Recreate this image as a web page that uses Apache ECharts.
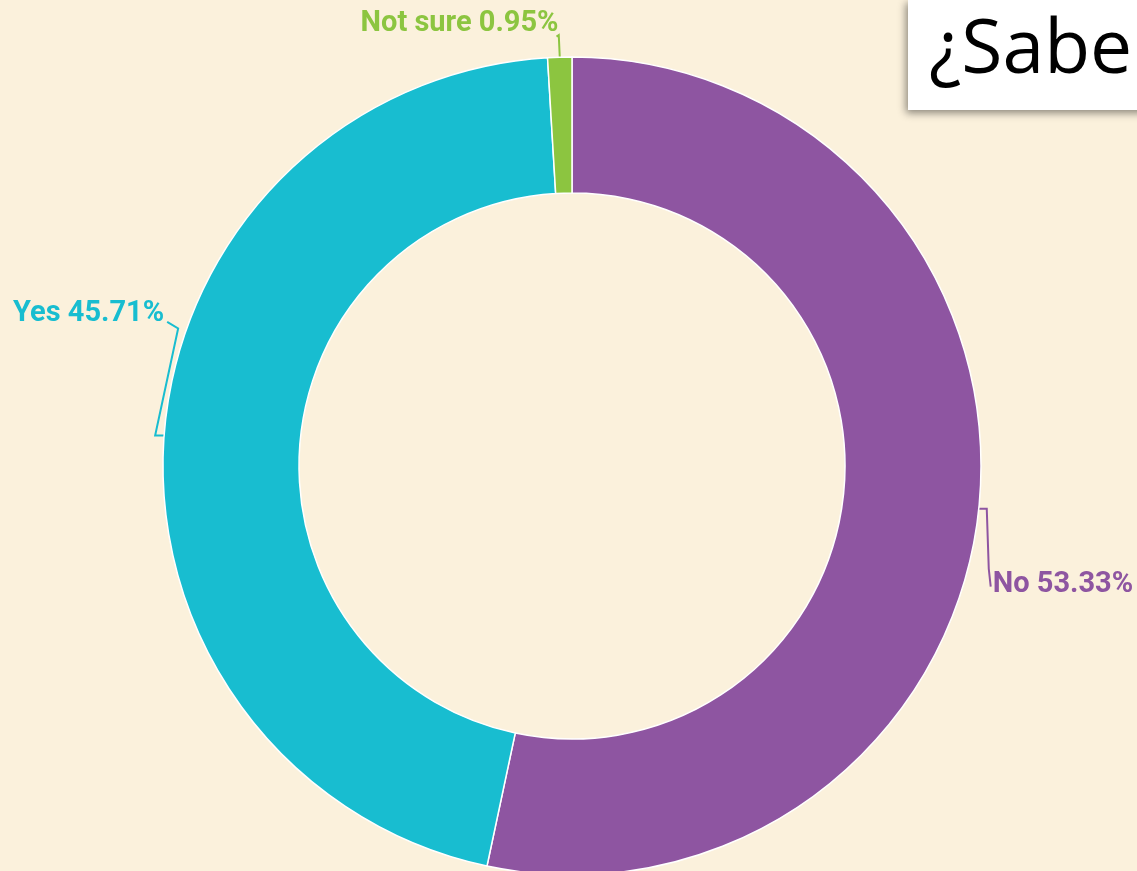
<!DOCTYPE html>
<html><head><meta charset="utf-8">
<script src="https://cdn.jsdelivr.net/npm/echarts@6/dist/echarts.min.js"></script>
<style>html,body{margin:0;padding:0;background:#fbf1dc;}#c{width:1137px;height:871px;}</style>
</head><body><div id="c"></div>
<script>
const categories = ['No', 'Yes', 'Not sure'];
const values = [56, 48, 1];
const colors = ['#8e55a1', '#18bdd0', '#8cc540'];
const titleText = '¿Sabe';

// label offsets and bracket-shaped leader line bends (relative to the slice anchor)
const labelShift = { 'No': [-5, 75], 'Yes': [19, -121], 'Not sure': [10, -25] };
const lineBends = {
  'No': [[8, 0], [10, 60]],
  'Yes': [[-9, 0], [14, -107]],
  'Not sure': [[-1, -22]]
};
const total = values.reduce((a, b) => a + b, 0);

const chart = echarts.init(document.getElementById('c'));
chart.setOption({
  backgroundColor: '#fbf1dc',
  animation: false,
  graphic: [{
    type: 'group', left: 908, top: 0,
    children: [
      { type: 'rect', shape: { x: 0, y: 0, width: 240, height: 110 },
        style: { fill: '#ffffff', shadowBlur: 8, shadowColor: 'rgba(0,0,0,0.45)', shadowOffsetX: -2, shadowOffsetY: 3 } },
      { type: 'text', x: 21, y: 14,
        style: { text: titleText, font: '400 75px "Open Sans", sans-serif', fill: '#000' } }
    ]
  }],
  series: [{
    type: 'pie',
    center: [572, 466],
    radius: [273, 409],
    startAngle: 90,
    clockwise: true,
    data: categories.map((c, i) => ({ name: c, value: values[i], itemStyle: { color: colors[i] } })),
    itemStyle: { borderColor: '#ffffff', borderWidth: 1.5 },
    label: {
      show: true, position: 'outside', overflow: 'none',
      formatter: p => p.name + ' ' + (p.value / total * 100).toFixed(2) + '%',
      fontFamily: 'Roboto', fontWeight: 'bold', fontSize: 29, color: 'inherit'
    },
    labelLine: { show: true, length: 8, length2: 6, lineStyle: { width: 2 } },
    labelLayout: function (p) {
      const name = categories[p.dataIndex];
      const s = labelShift[name];
      const r = p.labelRect;
      const pts = p.labelLinePoints;
      if (!pts) return { dx: s[0], dy: s[1] };
      const a = pts[0];
      const nx = r.x + s[0], ny = r.y + s[1];
      const line = [[a[0], a[1]]];
      lineBends[name].forEach(b => line.push([a[0] + b[0], a[1] + b[1]]));
      let end;
      if (name === 'No') end = [nx - 2, ny + r.height / 2 + 2];
      else if (name === 'Yes') end = [nx + r.width + 3, ny + r.height / 2 + 8];
      else end = [nx + r.width - 2, ny + r.height - 2];
      line.push(end);
      return { x: nx, y: ny, align: 'left', verticalAlign: 'top', labelLinePoints: line };
    },
    emphasis: { disabled: true }
  }]
});
</script></body></html>
